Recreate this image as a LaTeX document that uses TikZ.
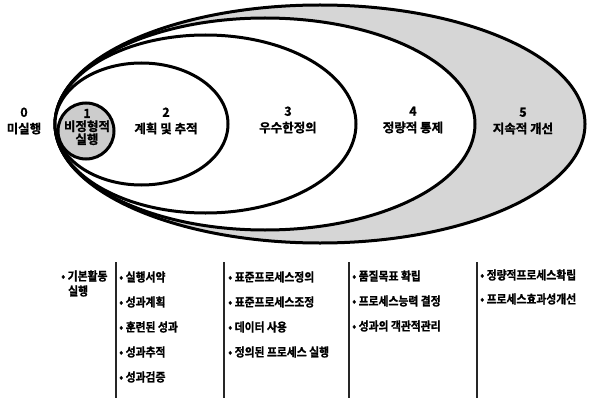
\documentclass[tikz,border=0pt]{standalone}
\usepackage{fontspec}
\newfontfamily\kr{Noto Sans CJK KR Bold}[FakeBold=1.2]
\newfontfamily\krn{Noto Sans CJK KR Bold}[FakeBold=1.2, FakeStretch=0.9]
\begin{document}
\begin{tikzpicture}[x=1pt,y=-1pt,
  ring/.style={draw=black, line width=3pt},
  lvl/.style={align=center, inner sep=0pt, font=\kr\fontsize{12.5}{16.5}\selectfont},
  item/.style={anchor=west, inner sep=0pt, font=\krn\fontsize{12}{15}\selectfont},
  bar/.style={draw=black!85, line width=1.1pt}]
\useasboundingbox (0,0) rectangle (596,401);
% ellipses
\path[ring, fill=black!16] (320,124) ellipse [x radius=265pt, y radius=119pt];
\path[ring, fill=white] (265,124) ellipse [x radius=210pt, y radius=106pt];
\path[ring, fill=white] (205.5,124) ellipse [x radius=150.5pt, y radius=89pt];
\path[ring, fill=white] (141.5,124) ellipse [x radius=86.5pt, y radius=61pt];
\path[ring, fill=black!20] (86,131) circle [radius=28pt];
% level labels
\node[lvl] (l0) at (24,121) {0\\미실행};
\node[lvl] (l1) at (87,127) {1\\[-3.5pt]비정형적\\[-3.5pt]실행};
\node[lvl] (l2) at (166,121) {2\\계획 및 추적};
\node[lvl] (l3) at (288,120) {3\\우수한정의};
\node[lvl] (l4) at (413,120) {4\\정량적 통제};
\node[lvl] (l5) at (523,121) {5\\지속적 개선};
% separators
\draw[bar] (116,262) coordinate (b1t) -- (116,398) coordinate (b1b);
\draw[bar] (224,262) coordinate (b2t) -- (224,398) coordinate (b2b);
\draw[bar] (349,262) coordinate (b3t) -- (349,398) coordinate (b3b);
\draw[bar] (477,262) coordinate (b4t) -- (477,398) coordinate (b4b);
% column 0
\node[item] (c0a) at (61,276) {• 기본활동};
\node[item] (c0b) at (68,291) {실행};
% column 1
\node[item] (c1a) at (119,277) {• 실행서약};
\node[item] (c1b) at (119,302) {• 성과계획};
\node[item] (c1c) at (119,327) {• 훈련된 성과};
\node[item] (c1d) at (119,352) {• 성과추적};
\node[item] (c1e) at (119,377) {• 성과검증};
% column 2
\node[item] (c2a) at (228,277) {• 표준프로세스정의};
\node[item] (c2b) at (228,302) {• 표준프로세스조정};
\node[item] (c2c) at (228,327) {• 데이터 사용};
\node[item] (c2d) at (228,352) {• 정의된 프로세스 실행};
% column 3
\node[item] (c3a) at (352,276) {• 품질목표 확립};
\node[item] (c3b) at (352,301) {• 프로세스능력 결정};
\node[item] (c3c) at (352,326) {• 성과의 객관적관리};
% column 4
\node[item] (c4a) at (480,275) {• 정량적프로세스확립};
\node[item] (c4b) at (480,299) {• 프로세스효과성개선};
\end{tikzpicture}
\end{document}
